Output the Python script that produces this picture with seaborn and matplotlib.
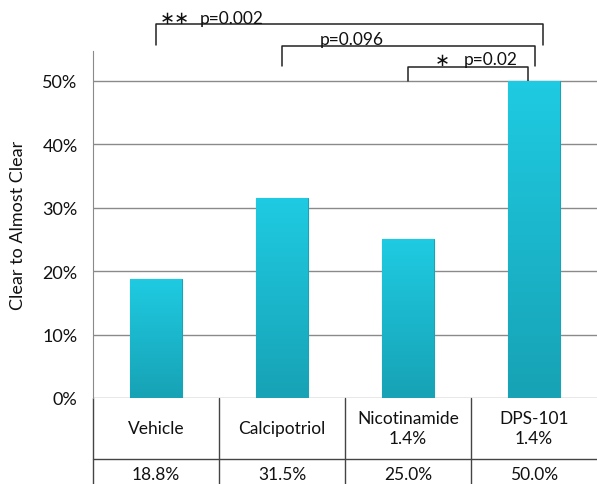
import numpy as np
import pandas as pd
import matplotlib
matplotlib.use("Agg")
import matplotlib.pyplot as plt
import seaborn as sns

# chart data
groups = ["Vehicle", "Calcipotriol", "Nicotinamide\n1.4%", "DPS-101\n1.4%"]
clear_rate = [18.8, 31.5, 25.0, 50.0]
value_labels = ["18.8%", "31.5%", "25.0%", "50.0%"]
y_ticks = [0, 10, 20, 30, 40, 50]

# comparisons: left group, right group, stars, p text
comp_left = [0, 1, 2]
comp_right = [3.07, 3.01, 2.95]
comp_stars = ["∗∗", "", "∗"]
comp_p = ["p=0.002", "p=0.096", "p=0.02"]

df = pd.DataFrame({"group": groups, "rate": clear_rate})

sns.set_style("white")
plt.rcParams["font.family"] = ["Lato", "DejaVu Sans"]
plt.rcParams["text.color"] = "#111111"

fig = plt.figure(figsize=(5.97, 4.85), dpi=100)
ax = fig.add_axes([93 / 597, 86 / 485, 504 / 597, 347 / 485])

sns.barplot(data=df, x="group", y="rate", color="#19c3da", width=0.41,
            edgecolor="#1aa3b5", linewidth=0.8, saturation=1, ax=ax, zorder=3)

# vertical gradient on each bar
grad = np.linspace(0, 1, 256).reshape(-1, 1)
cmap = matplotlib.colors.LinearSegmentedColormap.from_list("bar", ["#17a2b5", "#1fcbe2"])
for p in ax.patches:
    x0, y0 = p.get_x(), p.get_y()
    im = ax.imshow(grad, cmap=cmap, aspect="auto", origin="lower",
                   extent=[x0, x0 + p.get_width(), y0, y0 + p.get_height()], zorder=3.5)
    im.set_clip_path(p)

ax.set_xlim(-0.5, 3.5)
ax.set_ylim(0, 54.73)
ax.set_yticks(y_ticks)
ax.set_yticklabels([f"{t}%" for t in y_ticks], fontsize=13)
ax.tick_params(axis="y", length=0, pad=11, labelcolor="#111111")
ax.set_xticks([])
ax.set_xlabel("")
ax.set_ylabel("Clear to Almost Clear", fontsize=13, labelpad=12, color="#111111")
ax.yaxis.grid(True, color="#8a8a8a", linewidth=1)
ax.set_axisbelow(True)
for s in ["top", "right", "bottom"]:
    ax.spines[s].set_visible(False)
ax.spines["left"].set_color("#8a8a8a")

# data table below the axes
tr = ax.get_xaxis_transform()
row_line = (399 - 460) / 347
bottom = (399 - 485) / 347
ax.plot([-0.5, 3.5], [row_line, row_line], transform=tr, color="#444444", lw=1, clip_on=False)
for xb in [-0.5, 0.5, 1.5, 2.5]:
    ax.plot([xb, xb], [0, bottom], transform=tr, color="#444444", lw=1, clip_on=False)
for i, (g, v) in enumerate(zip(groups, value_labels)):
    ax.text(i, (399 - 429) / 347, g, transform=tr, ha="center", va="center",
            fontsize=12.5, linespacing=1.3)
    ax.text(i, (399 - 475) / 347, v, transform=tr, ha="center", va="center", fontsize=12.5)

# significance brackets
bracket_top = [59.0, 55.5, 52.2]
leg_bottom = [55.7, 52.4, 50.0]
for a, b, top, low in zip(comp_left, comp_right, bracket_top, leg_bottom):
    ax.plot([a, a, b, b], [low, top, top, low], color="#222222", lw=1.1, clip_on=False)

star_x = [0.03, None, 2.21]
star_y = [60.0, None, 53.3]
p_x = [0.35, 1.30, 2.44]
p_y = [60.0, 56.7, 53.4]
for s, sx, sy, ptxt, px, py in zip(comp_stars, star_x, star_y, comp_p, p_x, p_y):
    if s:
        ax.text(sx, sy, s, fontsize=13, ha="left", va="center", clip_on=False,
                family="DejaVu Sans")
    ax.text(px, py, ptxt, fontsize=12.5, ha="left", va="center", clip_on=False)

fig.savefig("out.png", dpi=100)
